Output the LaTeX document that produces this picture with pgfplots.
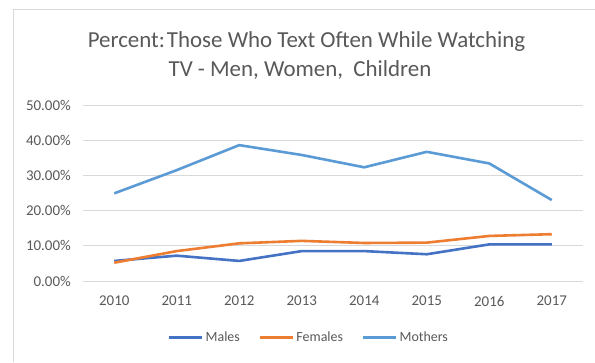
\documentclass[border=0pt]{standalone}
\usepackage{pgfplots}
\pgfplotsset{compat=1.18}
\usepackage{fontspec}
\setmainfont{Carlito}
\definecolor{males}{HTML}{4472C4}
\definecolor{females}{HTML}{ED7D31}
\definecolor{mothers}{HTML}{5B9BD5}
\definecolor{txt}{HTML}{595959}
\definecolor{gridc}{HTML}{D9D9D9}
\begin{document}
\begin{tikzpicture}[x=1bp,y=1bp]
\useasboundingbox (0,0) rectangle (595,362);
\fill[white] (0,0) rectangle (595,362);
\draw[color=gridc, line width=1.5bp] (13.5,0) -- (13.5,352.5) -- (595,352.5);
\node[text=txt, font=\fontsize{23}{27}\selectfont] at (306.5,320) {Percent:\kern2bp Those Who Text Often While Watching};
\node[text=txt, font=\fontsize{23}{27}\selectfont] at (300,292) {TV - Men, Women, \ Children};
\begin{axis}[
  at={(83bp,81bp)}, anchor=south west,
  scale only axis, width=500bp, height=176bp,
  xmin=2009.5, xmax=2017.5, ymin=0, ymax=50,
  xtick={2010,2011,...,2017}, ytick={0,10,...,50},
  axis line style={draw=none},
  major tick length=0pt,
  ymajorgrids, grid style={gridc, line width=1bp},
  /pgf/number format/assume math mode=true,
  /pgf/number format/1000 sep={},
  ticklabel style={text=txt, font=\fontsize{15}{18}\selectfont},
  yticklabel={\pgfmathprintnumber[fixed,fixed zerofill,precision=2,assume math mode=true]{\tick}\%},
  yticklabel style={anchor=east, inner sep=0pt, xshift=-12bp},
  xticklabel style={anchor=north, inner sep=0pt, yshift=-15bp},
  legend columns=3,
  legend style={at={(0.452,-0.32)}, anchor=center, draw=none, fill=none,
    font=\fontsize{14}{16}\selectfont, text=txt,
    nodes={inner xsep=2bp, inner ysep=0pt},
    /tikz/every even column/.append style={column sep=17bp}},
  legend image code/.code={\draw[#1] (0bp,0bp) -- (33bp,0bp);},
  every axis plot/.append style={line width=2.6bp, line join=round},
]
\addplot[males] coordinates {(2010,5.7) (2011,7.2) (2012,5.7) (2013,8.5) (2014,8.5) (2015,7.6) (2016,10.4) (2017,10.4)};
\addlegendentry{Males}
\addplot[females] coordinates {(2010,5.2) (2011,8.5) (2012,10.7) (2013,11.4) (2014,10.8) (2015,10.9) (2016,12.8) (2017,13.3)};
\addlegendentry{Females}
\addplot[mothers] coordinates {(2010,24.9) (2011,31.5) (2012,38.6) (2013,35.8) (2014,32.3) (2015,36.7) (2016,33.4) (2017,23.0)};
\addlegendentry{Mothers}
\end{axis}
\end{tikzpicture}
\end{document}
